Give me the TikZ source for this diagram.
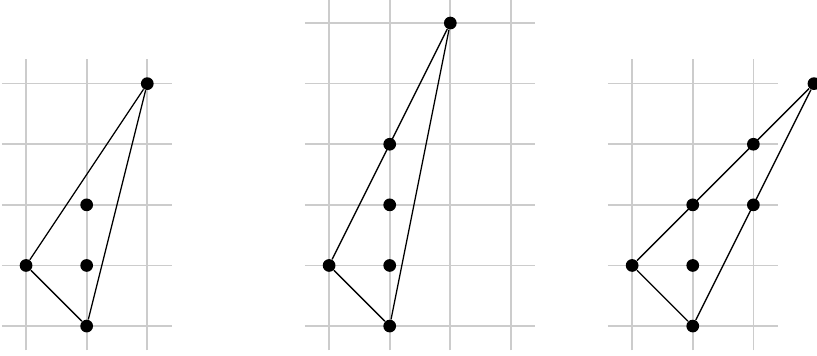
\documentclass[tikz,border=0pt]{standalone}
\begin{document}
\begin{tikzpicture}[x=1cm, y=1cm,
  gridline/.style = {draw=black!20, line width=0.8pt},
  edge/.style = {draw=black, line width=0.6pt},
  dot/.style = {circle, fill=black, inner sep=0pt, minimum size=0.21cm}]
  \useasboundingbox (-0.43,-0.48) rectangle (13.05,5.38);
  % grids
  \foreach \x in {0,1,2} \draw[gridline] (\x,-0.4) -- (\x,4.4);
  \foreach \y in {0,...,4} \draw[gridline] (-0.4,\y) -- (2.4,\y);
  \foreach \x in {5,...,8} \draw[gridline] (\x,-0.4) -- (\x,5.4);
  \foreach \y in {0,...,5} \draw[gridline] (4.6,\y) -- (8.4,\y);
  \foreach \x in {10,11,12} \draw[gridline] (\x,-0.4) -- (\x,4.4);
  \foreach \y in {0,...,4} \draw[gridline] (9.6,\y) -- (12.4,\y);
  % left triangle
  \node[dot] (l1) at (0,1) {};
  \node[dot] (l2) at (1,0) {};
  \node[dot] (l3) at (2,4) {};
  \node[dot] (l4) at (1,1) {};
  \node[dot] (l5) at (1,2) {};
  \draw[edge] (l1) -- (l2) -- (l3) -- (l1);
  % middle triangle
  \node[dot] (m1) at (5,1) {};
  \node[dot] (m2) at (6,0) {};
  \node[dot] (m3) at (7,5) {};
  \node[dot] (m4) at (6,1) {};
  \node[dot] (m5) at (6,2) {};
  \node[dot] (m6) at (6,3) {};
  \draw[edge] (m1) -- (m2) -- (m3) -- (m1);
  % right triangle
  \node[dot] (r1) at (10,1) {};
  \node[dot] (r2) at (11,0) {};
  \node[dot] (r3) at (13,4) {};
  \node[dot] (r4) at (11,1) {};
  \node[dot] (r5) at (11,2) {};
  \node[dot] (r6) at (12,2) {};
  \node[dot] (r7) at (12,3) {};
  \draw[edge] (r1) -- (r2) -- (r3) -- (r1);
\end{tikzpicture}
\end{document}
